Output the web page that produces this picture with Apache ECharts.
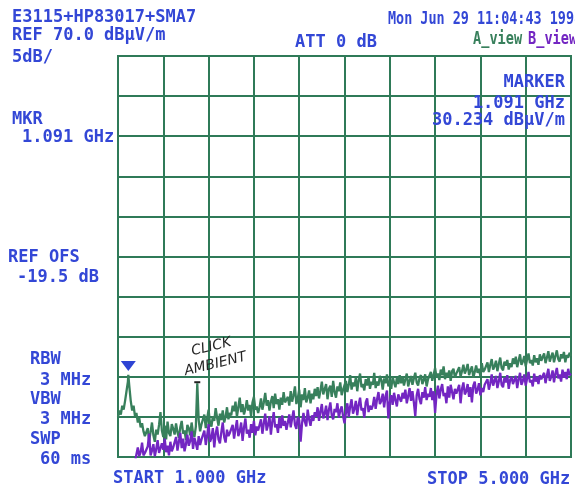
<!DOCTYPE html>
<html>
<head>
<meta charset="utf-8">
<script src="https://cdn.jsdelivr.net/npm/echarts@6/dist/echarts.min.js"></script>
<style>
  html, body { margin: 0; padding: 0; background: #ffffff; }
  #chart { width: 575px; height: 494px; }
</style>
</head>
<body>
<div id="chart"></div>
<script>
// Sweep setup: 1.000 – 5.000 GHz, 321 points, REF 70 dBµV/m, 5 dB/div
const START_GHZ = 1.0;
const STOP_GHZ = 5.0;
const SWEEP_STEP_GHZ = 0.0125;
const REF_LEVEL = 70;
const DB_PER_DIV = 5;

// A_view trace (dBµV/m), 20 sweep points (0.25 GHz) per row
const traceA = [
  25.0, 25.8, 25.3, 26.4, 25.9, 27.0, 28.2, 29.4, 28.8, 27.0, 25.8, 26.4, 25.1, 25.5, 24.3, 24.9, 23.7, 24.2, 23.2, 22.6,
  22.4, 23.6, 22.0, 23.1, 24.3, 22.7, 21.9, 23.4, 22.8, 24.0, 25.6, 23.3, 22.5, 23.9, 22.2, 24.4, 23.0, 22.6, 24.1, 23.5,
  22.8, 24.2, 23.1, 22.4, 23.7, 24.5, 22.9, 23.3, 22.1, 24.0, 23.6, 22.7, 24.3, 23.0, 22.5, 23.8, 29.2, 24.6, 23.2, 24.1,
  24.0, 25.3, 23.6, 24.8, 25.9, 24.2, 23.8, 25.1, 24.5, 26.1, 24.9, 23.9, 25.4, 24.6, 25.8, 24.3, 25.0, 26.2, 24.7, 25.5,
  25.2, 26.4, 25.7, 26.9, 25.0, 26.2, 27.4, 25.6, 26.6, 25.3, 26.0, 27.1, 25.8, 26.5, 25.1, 26.8, 27.5, 25.9, 26.3, 25.5,
  26.2, 27.3, 25.9, 26.8, 28.0, 26.4, 27.1, 25.8, 26.9, 27.6, 26.1, 27.9, 26.6, 27.2, 25.9, 27.4, 26.5, 28.1, 26.8, 27.0,
  27.5, 26.4, 28.2, 26.9, 27.7, 28.8, 26.6, 27.3, 28.4, 26.2, 27.8, 27.1, 28.6, 26.8, 27.4, 28.3, 26.7, 27.9, 27.2, 28.5,
  27.6, 28.7, 27.3, 28.3, 29.4, 27.8, 28.0, 29.1, 27.2, 28.5, 28.9, 27.5, 29.5, 28.1, 27.4, 28.8, 28.2, 29.3, 27.7, 28.4,
  28.6, 29.5, 28.1, 29.0, 30.2, 28.4, 29.3, 28.8, 29.9, 28.2, 29.6, 30.4, 28.7, 29.1, 28.3, 29.7, 28.9, 30.0, 28.5, 29.4,
  29.0, 30.5, 28.6, 29.4, 28.9, 30.1, 29.6, 28.4, 29.8, 29.2, 30.3, 28.8, 29.5, 28.5, 30.0, 29.3, 28.7, 29.9, 29.1, 30.2,
  29.2, 30.0, 28.9, 29.7, 30.4, 28.8, 29.5, 30.1, 29.0, 29.8, 30.5, 29.3, 28.9, 29.9, 30.2, 29.1, 29.6, 30.3, 28.8, 29.7,
  29.8, 30.6, 29.5, 30.3, 31.1, 29.9, 30.4, 29.6, 30.9, 30.2, 31.3, 29.7, 30.5, 30.0, 30.8, 29.5, 30.7, 31.0, 29.9, 30.4,
  30.3, 31.2, 30.0, 30.7, 31.5, 30.4, 30.9, 31.6, 30.2, 30.8, 31.3, 29.9, 30.6, 31.4, 30.5, 31.0, 30.1, 31.7, 30.6, 30.9,
  31.0, 31.8, 30.6, 31.5, 32.2, 30.9, 31.3, 32.0, 30.7, 31.6, 32.4, 31.1, 30.8, 31.9, 31.4, 32.1, 30.9, 31.7, 31.2, 32.3,
  31.6, 32.5, 31.2, 32.0, 32.8, 31.5, 31.9, 32.6, 31.3, 32.2, 32.9, 31.7, 32.1, 31.4, 32.7, 31.8, 32.3, 31.5, 32.8, 32.0,
  32.1, 32.9, 31.7, 32.4, 33.2, 31.9, 32.5, 33.0, 31.8, 32.6, 33.3, 32.2, 31.9, 32.8, 32.3, 33.1, 31.8, 32.7, 32.4, 33.0,
  32.6
];

// B_view trace (dBµV/m); values under 20 fall below the screen
const traceB = [
  19.0, 19.2, 18.9, 19.1, 19.3, 19.0, 18.8, 19.2, 19.1, 19.0, 19.3, 19.1, 19.4, 20.3, 21.2, 20.1, 20.6, 21.8, 20.2, 20.5,
  20.4, 21.3, 22.9, 20.2, 20.8, 21.6, 20.1, 21.0, 22.1, 20.5, 20.3, 21.7, 20.9, 22.3, 20.6, 21.4, 20.2, 21.9, 20.7, 21.2,
  21.3, 22.5, 20.8, 21.9, 23.0, 21.1, 22.3, 20.7, 21.6, 22.8, 21.4, 22.0, 23.2, 21.0, 22.4, 21.7, 20.9, 22.6, 21.5, 22.2,
  22.0, 23.3, 21.5, 22.7, 24.1, 21.9, 22.4, 23.6, 21.2, 22.9, 23.8, 22.2, 21.7, 23.1, 24.3, 22.5, 21.8, 23.4, 22.6, 23.0,
  22.8, 24.0, 22.3, 23.5, 24.6, 22.6, 23.2, 24.3, 22.0, 23.7, 24.8, 22.9, 23.4, 22.4, 24.1, 23.0, 24.5, 22.7, 23.8, 23.3,
  23.5, 24.7, 22.9, 24.2, 25.4, 23.3, 24.0, 25.1, 22.8, 24.4, 25.6, 23.7, 24.1, 23.0, 24.9, 23.6, 25.2, 23.9, 24.5, 23.4,
  24.3, 25.3, 23.7, 24.8, 25.8, 24.0, 23.5, 25.0, 24.6, 21.9, 24.2, 25.5, 24.4, 23.8, 25.9, 24.7, 23.9, 25.2, 24.5, 25.6,
  25.0, 26.2, 24.5, 25.7, 26.6, 24.8, 25.4, 26.4, 24.6, 25.9, 26.8, 25.2, 24.7, 26.0, 25.6, 26.7, 24.9, 25.8, 26.3, 25.1,
  24.2, 25.5, 26.7, 25.0, 26.3, 27.2, 25.4, 26.0, 27.0, 25.2, 26.5, 27.4, 25.8, 26.1, 24.9, 26.8, 27.3, 25.6, 26.4, 25.9,
  26.4, 27.5, 26.0, 27.2, 28.1, 26.6, 27.0, 27.9, 26.2, 27.6, 28.3, 24.8, 26.8, 27.7, 26.5, 28.0, 27.1, 26.3, 27.8, 27.3,
  26.9, 28.0, 27.3, 28.4, 26.7, 27.6, 28.6, 27.0, 28.2, 26.8, 25.1, 27.7, 28.5, 27.2, 26.6, 28.1, 27.4, 28.7, 27.1, 27.9,
  27.5, 28.6, 27.1, 28.2, 25.5, 27.8, 28.9, 27.3, 28.4, 29.1, 27.6, 28.0, 26.7, 28.8, 27.4, 29.0, 28.1, 27.2, 28.5, 27.9,
  28.0, 29.0, 26.7, 28.5, 29.3, 27.8, 28.2, 29.1, 27.5, 28.7, 26.8, 28.9, 29.4, 27.9, 28.4, 29.2, 27.7, 28.6, 28.1, 29.0,
  28.8, 29.7, 28.4, 29.2, 30.3, 28.9, 29.5, 30.1, 28.6, 29.4, 30.5, 29.0, 28.7, 29.9, 29.3, 30.2, 28.5, 29.6, 30.0, 29.1,
  29.2, 30.1, 28.6, 29.7, 30.5, 29.0, 29.5, 30.3, 28.9, 29.8, 30.6, 29.3, 29.6, 28.8, 30.4, 29.4, 30.0, 29.1, 30.2, 29.7,
  29.6, 30.5, 29.2, 30.2, 31.0, 29.5, 30.0, 30.8, 29.3, 30.4, 31.1, 29.8, 30.3, 29.4, 30.9, 29.9, 30.6, 29.7, 31.0, 30.2,
  30.4
];

// Marker readout and the hand-noted ambient click
const MARKER_GHZ = 1.091;
const MARKER_LEVEL = 30.234;
const CLICK_GHZ = 1.70;
const CLICK_LEVEL = 29.2;

// Header / side annotations
const headerLines = ['E3115+HP83017+SMA7', 'REF 70.0 dBµV/m', '5dB/'];
const dateText = 'Mon Jun 29 11:04:43 1998';
const attText = 'ATT 0 dB';
const markerBox = ['MARKER', '1.091 GHz', '30.234 dBµV/m'];
const leftBlock = ['MKR', '1.091 GHz', 'REF OFS', '-19.5 dB'];
const bwBlock = ['RBW', '3 MHz', 'VBW', '3 MHz', 'SWP', '60 ms'];
const startText = 'START 1.000 GHz';
const stopText = 'STOP 5.000 GHz';
const noteLines = ['CLICK', 'AMBIENT'];

const BLUE = '#3347d6';
const GREEN = '#38805c';
const GRID = '#2f7a58';
const PURPLE = '#7326c2';
const FONT = 'bold 17px "DejaVu Sans Mono", monospace';
const NOTE_FONT = 'italic 14px "DejaVu Sans", sans-serif';

// x runs in GHz from the start frequency so ticks fall on each 0.4 GHz division
const spanDiv = (STOP_GHZ - START_GHZ) / 10;
const toX = f => +(f - START_GHZ).toFixed(4);

const dataA = traceA.map((v, i) => [toX(START_GHZ + i * SWEEP_STEP_GHZ), v]);
dataA.push([toX(MARKER_GHZ), MARKER_LEVEL]);
dataA.sort((a, b) => a[0] - b[0]);
const dataB = traceB.map((v, i) => [toX(START_GHZ + i * SWEEP_STEP_GHZ), v]);

function txt(text, x, y, extra) {
  const el = {
    type: 'text', x: x, y: y, z: 100,
    style: Object.assign({ text: text, fill: BLUE, font: FONT, textVerticalAlign: 'top' }, (extra && extra.style) || {})
  };
  if (extra) {
    ['scaleX', 'scaleY', 'rotation'].forEach(k => { if (extra[k] !== undefined) el[k] = extra[k]; });
  }
  return el;
}

const graphics = [];
headerLines.forEach((t, i) => graphics.push(txt(t, 12, [8, 26, 48][i], { scaleY: 1.08 })));
graphics.push(txt(attText, 295, 33, { scaleY: 1.08 }));
graphics.push(txt(dateText, 388, 10, { scaleX: 0.79, scaleY: 1.08 }));
graphics.push(txt('A_view', 473, 31, { scaleX: 0.8, style: { fill: GREEN } }));
graphics.push(txt('B_view', 528, 31, { scaleX: 0.8, style: { fill: PURPLE } }));
markerBox.forEach((t, i) => graphics.push(txt(t, 565, [73, 94, 111][i], { scaleY: 1.08, style: { textAlign: 'right' } })));
leftBlock.forEach((t, i) => graphics.push(txt(t, [12, 22, 8, 17][i], [110, 128, 248, 268][i], { scaleY: 1.08 })));
bwBlock.forEach((t, i) => graphics.push(txt(t, i % 2 ? 40 : 30, [350, 371, 390, 410, 430, 450][i], { scaleY: 1.08 })));
graphics.push(txt(startText, 113, 469, { scaleY: 1.08 }));
graphics.push(txt(stopText, 427, 470, { scaleY: 1.08 }));
// handwritten note over the ambient spike
graphics.push(txt(noteLines[0], 190, 345, { rotation: 0.24, style: { fill: '#262626', font: NOTE_FONT } }));
graphics.push(txt(noteLines[1], 183, 365, { rotation: 0.24, style: { fill: '#262626', font: NOTE_FONT } }));

const chart = echarts.init(document.getElementById('chart'), null, { renderer: 'canvas' });
chart.setOption({
  animation: false,
  backgroundColor: '#ffffff',
  grid: { left: 118, right: 4, top: 56, bottom: 37, show: true, borderColor: GRID, borderWidth: 2 },
  xAxis: {
    type: 'value', min: 0, max: toX(STOP_GHZ), interval: spanDiv,
    axisLabel: { show: false }, axisTick: { show: false },
    axisLine: { show: false },
    splitLine: { show: true, lineStyle: { color: GRID, width: 2 } }
  },
  yAxis: {
    type: 'value', min: REF_LEVEL - 10 * DB_PER_DIV, max: REF_LEVEL, interval: DB_PER_DIV,
    axisLabel: { show: false }, axisTick: { show: false },
    axisLine: { show: false },
    splitLine: { show: true, lineStyle: { color: GRID, width: 2 } }
  },
  series: [
    {
      name: 'A_view', type: 'line', data: dataA, showSymbol: false, clip: true,
      lineStyle: { color: GREEN, width: 2.3 }, itemStyle: { color: GREEN },
      markPoint: {
        silent: true, label: { show: false },
        data: [
          { coord: [toX(MARKER_GHZ), MARKER_LEVEL], symbol: 'triangle', symbolRotate: 180,
            symbolSize: [15, 10], symbolOffset: [0, -9], itemStyle: { color: '#2e44d4' } },
          { coord: [toX(CLICK_GHZ), CLICK_LEVEL], symbol: 'rect',
            symbolSize: [6, 2], symbolOffset: [0, -1], itemStyle: { color: '#222222' } }
        ]
      }
    },
    {
      name: 'B_view', type: 'line', data: dataB, showSymbol: false, clip: true,
      lineStyle: { color: PURPLE, width: 2.3 }, itemStyle: { color: PURPLE }
    }
  ],
  graphic: graphics
});
</script>
</body>
</html>
